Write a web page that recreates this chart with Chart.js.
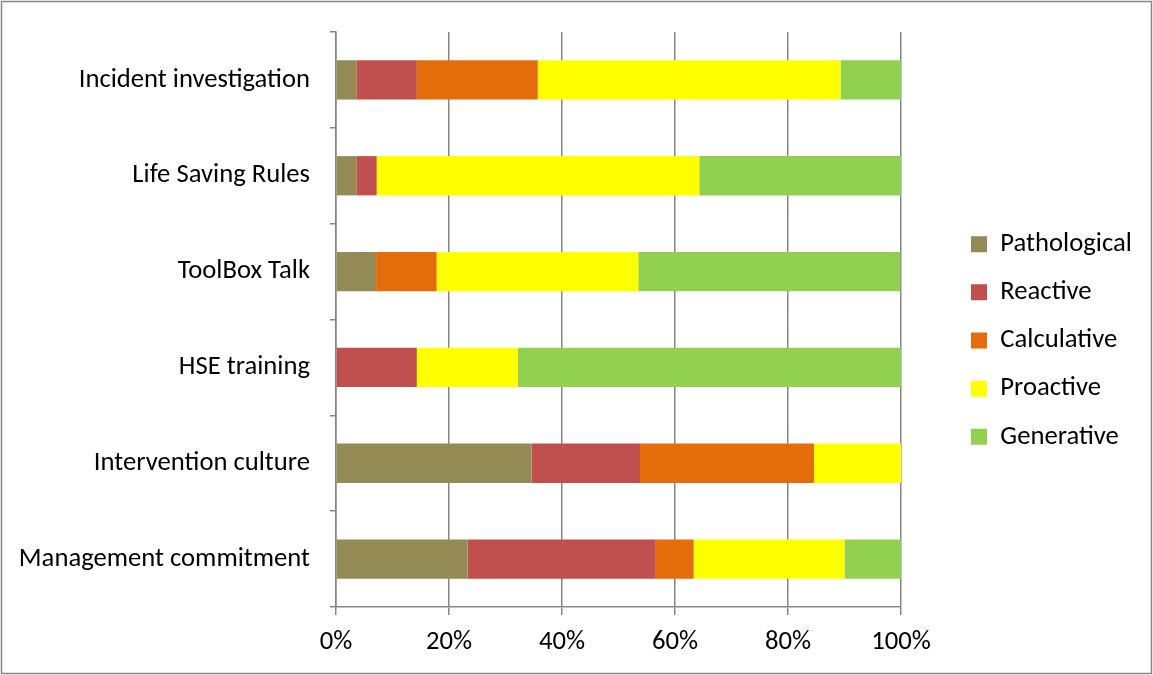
<!DOCTYPE html>
<html>
<head>
<meta charset="utf-8">
<script src="https://cdn.jsdelivr.net/npm/chart.js@4"></script>
<style>
  html, body { margin: 0; padding: 0; background: #fff; }
  canvas { display: block; background: #fff; }
</style>
</head>
<body>
<canvas id="cultureChart" width="1153" height="675"></canvas>
<script>
// categories, top to bottom
const categories = ['Incident investigation', 'Life Saving Rules', 'ToolBox Talk', 'HSE training', 'Intervention culture', 'Management commitment'];

// share of answers per culture level (%)
const pathological = [3.6, 3.6, 7.1, 0, 34.6, 23.3];
const reactive = [10.7, 3.6, 0, 14.3, 19.2, 33.3];
const calculative = [21.4, 0, 10.7, 0, 30.8, 6.7];
const proactive = [53.6, 57.1, 35.7, 17.9, 15.4, 26.7];
const generative = [10.7, 35.7, 46.4, 67.9, 0, 10.0];

const xTicks = [0, 20, 40, 60, 80, 100];

const FONT = 'Carlito, Calibri, Lato, sans-serif';
const FONT_SIZE = 26.67; // 20pt
const AXIS_GREY = '#868686';

Chart.defaults.font.family = FONT;
Chart.defaults.font.size = FONT_SIZE;
Chart.defaults.color = '#000';

// keep the plot box where the original had it, legend off to the right
const layoutFix = {
    id: 'layoutFix',
    afterInit(chart) {
        const legend = chart.legend;
        const origFit = legend.fit;
        legend.fit = function () {
            origFit.call(this);
            this.width = 1153 - 901;
        };
    },
    afterLayout(chart) {
        const legend = chart.legend;
        legend.left = 971 - legend.options.labels.padding;
        legend.top = 3;
        legend.bottom = 678;
        legend.height = 675;
    },
    afterDraw(chart) {
        const ctx = chart.ctx;
        ctx.save();
        ctx.strokeStyle = AXIS_GREY;
        ctx.lineWidth = 1.5;
        ctx.strokeRect(1.5, 1.5, 1150, 672);
        ctx.restore();
    }
};

const ctx = document.getElementById('cultureChart').getContext('2d');
const cultureChart = new Chart(ctx, {
    type: 'bar',
    data: {
        labels: categories,
        datasets: [
            { label: 'Pathological', data: pathological, backgroundColor: '#948A54' },
            { label: 'Reactive', data: reactive, backgroundColor: '#C0504D' },
            { label: 'Calculative', data: calculative, backgroundColor: '#E46C0A' },
            { label: 'Proactive', data: proactive, backgroundColor: '#FFFF00' },
            { label: 'Generative', data: generative, backgroundColor: '#92D050' }
        ]
    },
    options: {
        indexAxis: 'y',
        responsive: false,
        animation: false,
        devicePixelRatio: 1,
        categoryPercentage: 0.41,
        barPercentage: 1,
        layout: { padding: { top: 32, right: 0, bottom: 0, left: 0 } },
        plugins: {
            tooltip: { enabled: false },
            legend: {
                position: 'right',
                labels: {
                    boxWidth: 16,
                    boxHeight: 16,
                    padding: 21.5,
                    color: '#000',
                    font: { size: FONT_SIZE }
                }
            }
        },
        scales: {
            x: {
                stacked: true,
                min: 0,
                max: 100,
                afterBuildTicks(scale) {
                    scale.ticks = xTicks.map(v => ({ value: v }));
                },
                afterFit(scale) { scale.height = 68; },
                ticks: {
                    padding: 11,
                    color: '#000',
                    font: { size: FONT_SIZE },
                    callback: v => v + '%'
                },
                grid: {
                    color: AXIS_GREY,
                    lineWidth: 1.5,
                    tickLength: 8
                },
                border: { color: AXIS_GREY, width: 1.5 }
            },
            y: {
                stacked: true,
                afterFit(scale) {
                    scale.width = 336;
                    scale.paddingTop = 0;
                    scale.paddingBottom = 0;
                },
                ticks: {
                    padding: 20,
                    color: '#000',
                    font: { size: FONT_SIZE }
                },
                grid: {
                    drawOnChartArea: false,
                    color: AXIS_GREY,
                    lineWidth: 1.5,
                    tickLength: 6
                },
                border: { color: AXIS_GREY, width: 1.5 }
            }
        }
    },
    plugins: [layoutFix]
});
</script>
</body>
</html>
